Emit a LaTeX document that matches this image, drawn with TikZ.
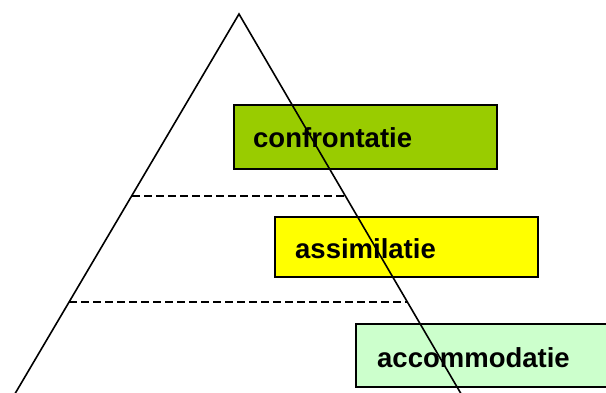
\documentclass[tikz,border=0pt]{standalone}
\usepackage{fontspec}
\setmainfont{Liberation Sans}
\usetikzlibrary{calc}
\begin{document}
\begin{tikzpicture}[x=1pt,y=-1pt,
  levelbox/.style={draw=black,line width=2pt,inner sep=0pt,anchor=north west},
  levellabel/.style={anchor=base west,inner sep=0pt,font=\fontsize{27.5}{30}\selectfont\bfseries},
  sideline/.style={line width=1.6pt},
  levelline/.style={line width=1.5pt,dash pattern=on 8pt off 4pt}]
\useasboundingbox (0,0) rectangle (606,392);
\begin{scope}
\clip (0,0) rectangle (606,392);
\node[levelbox,fill={rgb,255:red,153;green,204;blue,0},minimum width=263pt,minimum height=64pt] (b1) at (233,104) {};
\node[levelbox,fill={rgb,255:red,255;green,255;blue,0},minimum width=263pt,minimum height=60pt] (b2) at (274,216) {};
\node[levelbox,fill={rgb,255:red,204;green,255;blue,204},minimum width=260pt,minimum height=63pt] (b3) at (355,323) {};
\node[levellabel] (t1) at (253,147) {confrontatie};
\node[levellabel] (t2) at (295,258) {assimilatie};
\node[levellabel] (t3) at (377,367) {accommodatie};
\coordinate (apex) at (239,14);
\coordinate (bl) at (16,392);
\coordinate (br) at (460,392);
\coordinate (d1l) at (132,196);
\coordinate (d1r) at (345,196);
\coordinate (d2l) at (69,302);
\coordinate (d2r) at (408,302);
\draw[levelline] (d1l) -- (d1r);
\draw[levelline] (d2l) -- (d2r);
\draw[sideline] ($(bl)!-0.02!(apex)$) -- (apex) -- ($(br)!-0.02!(apex)$);
\end{scope}
\end{tikzpicture}
\end{document}
